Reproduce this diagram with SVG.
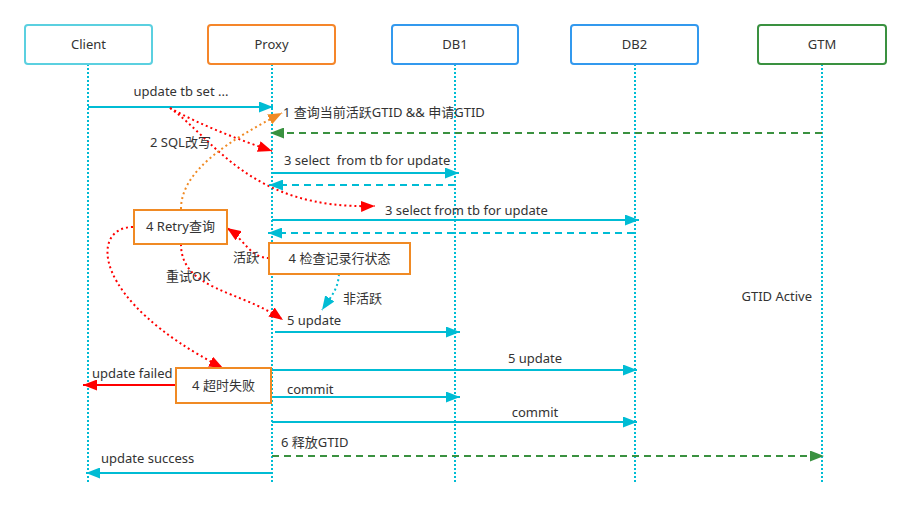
<svg xmlns="http://www.w3.org/2000/svg" width="910" height="512" viewBox="0 0 910 512">
<style>
text{font-family:"Noto Sans","Noto Sans CJK SC",sans-serif;font-size:13px;fill:#333333;white-space:pre}
.hdr{fill:#ffffff;stroke-width:2}
.life{stroke:#00BCD4;stroke-width:2;stroke-dasharray:2 2;fill:none}
.box{fill:#ffffff;stroke:#F08A24;stroke-width:2}
.cy{stroke:#00BCD4;stroke-width:2;fill:none}
.cyd{stroke:#00BCD4;stroke-width:2;fill:none;stroke-dasharray:7 5}
.gd{stroke:#3A9140;stroke-width:2;fill:none;stroke-dasharray:7 5}
.rdot{stroke:#FF0000;stroke-width:2;fill:none;stroke-dasharray:2 3}
.odot{stroke:#F08A24;stroke-width:2;fill:none;stroke-dasharray:2 3}
.cdot{stroke:#00BCD4;stroke-width:2;fill:none;stroke-dasharray:2 3}
.rd{stroke:#FF0000;stroke-width:2;fill:none}
.mid{text-anchor:middle}
</style>
<defs>
<marker id="aC" markerUnits="userSpaceOnUse" markerWidth="15" markerHeight="11" refX="14" refY="5.5" orient="auto"><path d="M0,0 L14,5.5 L0,11 z" fill="#00BCD4"/></marker>
<marker id="aG" markerUnits="userSpaceOnUse" markerWidth="15" markerHeight="11" refX="14" refY="5.5" orient="auto"><path d="M0,0 L14,5.5 L0,11 z" fill="#3A9140"/></marker>
<marker id="aR" markerUnits="userSpaceOnUse" markerWidth="15" markerHeight="11" refX="14" refY="5.5" orient="auto"><path d="M0,0 L14,5.5 L0,11 z" fill="#FF0000"/></marker>
<marker id="aO" markerUnits="userSpaceOnUse" markerWidth="15" markerHeight="11" refX="14" refY="5.5" orient="auto"><path d="M0,0 L14,5.5 L0,11 z" fill="#F08A24"/></marker>
</defs>
<rect width="910" height="512" fill="#ffffff"/>

<g id="client">
<line class="life" x1="88" y1="64" x2="88" y2="484"/>
<rect class="hdr" x="25" y="25" width="127" height="39" rx="3" stroke="#5BD0E0"/>
<text class="mid" x="88.5" y="49">Client</text>
</g>
<g id="proxy">
<line class="life" x1="272" y1="64" x2="272" y2="484"/>
<rect class="hdr" x="208" y="25" width="127" height="39" rx="3" stroke="#F5862A"/>
<text class="mid" x="271.5" y="49">Proxy</text>
</g>
<g id="db1">
<line class="life" x1="455" y1="64" x2="455" y2="484"/>
<rect class="hdr" x="392" y="25" width="126" height="39" rx="3" stroke="#3399EE"/>
<text class="mid" x="455" y="49">DB1</text>
</g>
<g id="db2">
<line class="life" x1="635" y1="64" x2="635" y2="484"/>
<rect class="hdr" x="571" y="25" width="127" height="39" rx="3" stroke="#3399EE"/>
<text class="mid" x="634.5" y="49">DB2</text>
</g>
<g id="gtm">
<line class="life" x1="822" y1="64" x2="822" y2="484"/>
<rect class="hdr" x="758" y="25" width="128" height="39" rx="3" stroke="#3A9140"/>
<text class="mid" x="822" y="49">GTM</text>
</g>

<g id="connectors">
<path class="cy" d="M88,107 L273,107" marker-end="url(#aC)"/>
<path class="gd" d="M822,133 L270,133" marker-end="url(#aG)"/>
<path class="rdot" d="M170,108 C200,125 240,140 272,151" marker-end="url(#aR)"/>
<path class="rdot" d="M170,108 C215,140 250,210 375,206" marker-end="url(#aR)"/>
<path class="cy" d="M272,173 L459,173" marker-end="url(#aC)"/>
<path class="cyd" d="M455,185 L269,185" marker-end="url(#aC)"/>
<path class="cy" d="M272,220 L639,220" marker-end="url(#aC)"/>
<path class="cyd" d="M634,233 L268,233" marker-end="url(#aC)"/>
<path class="odot" d="M181,209 C181,170 230,140 282,113" marker-end="url(#aO)"/>
<path class="rdot" d="M269,258 C250,258 245,240 227,228" marker-end="url(#aR)"/>
<path class="cdot" d="M339,274 C338,290 330,298 322,310" marker-end="url(#aC)"/>
<path class="rdot" d="M181,244 C181,290 240,290 283,320" marker-end="url(#aR)"/>
<path class="rdot" d="M133,227 C90,227 90,300 223,368" marker-end="url(#aR)"/>
<path class="cy" d="M275,332 L460,332" marker-end="url(#aC)"/>
<path class="cy" d="M272,370 L637,370" marker-end="url(#aC)"/>
<path class="rd" d="M176,385 L83,385" marker-end="url(#aR)"/>
<path class="cy" d="M272,397 L460,397" marker-end="url(#aC)"/>
<path class="cy" d="M272,422 L637,422" marker-end="url(#aC)"/>
<path class="gd" d="M272,456 L824,456" marker-end="url(#aG)"/>
<path class="cy" d="M272,473 L86,473" marker-end="url(#aC)"/>
</g>

<g id="labels">
<text class="mid" x="181" y="96">update tb set ...</text>
<text x="283" y="117">1 查询当前活跃GTID &amp;&amp; 申请GTID</text>
<text x="150" y="147">2 SQL改写</text>
<text x="284" y="165">3 select  from tb for update</text>
<text x="385" y="215">3 select from tb for update</text>
<text x="233" y="262">活跃</text>
<text x="343" y="303">非活跃</text>
<text x="166" y="281">重试OK</text>
<text x="287" y="325">5 update</text>
<text class="mid" x="535" y="363">5 update</text>
<text x="92" y="378">update failed</text>
<text x="287" y="394">commit</text>
<text class="mid" x="535" y="417">commit</text>
<text x="281" y="447">6 释放GTID</text>
<text x="101" y="463">update success</text>
<text x="812" y="301" text-anchor="end">GTID Active</text>
</g>

<g id="retry">
<rect class="box" x="134" y="210" width="93" height="34"/>
<text class="mid" x="180.5" y="231">4 Retry查询</text>
</g>
<g id="check">
<rect class="box" x="269" y="243" width="141" height="31"/>
<text class="mid" x="339.5" y="263">4 检查记录行状态</text>
</g>
<g id="timeout">
<rect class="box" x="176" y="368" width="95" height="35"/>
<text class="mid" x="223.5" y="390">4 超时失败</text>
</g>
</svg>
